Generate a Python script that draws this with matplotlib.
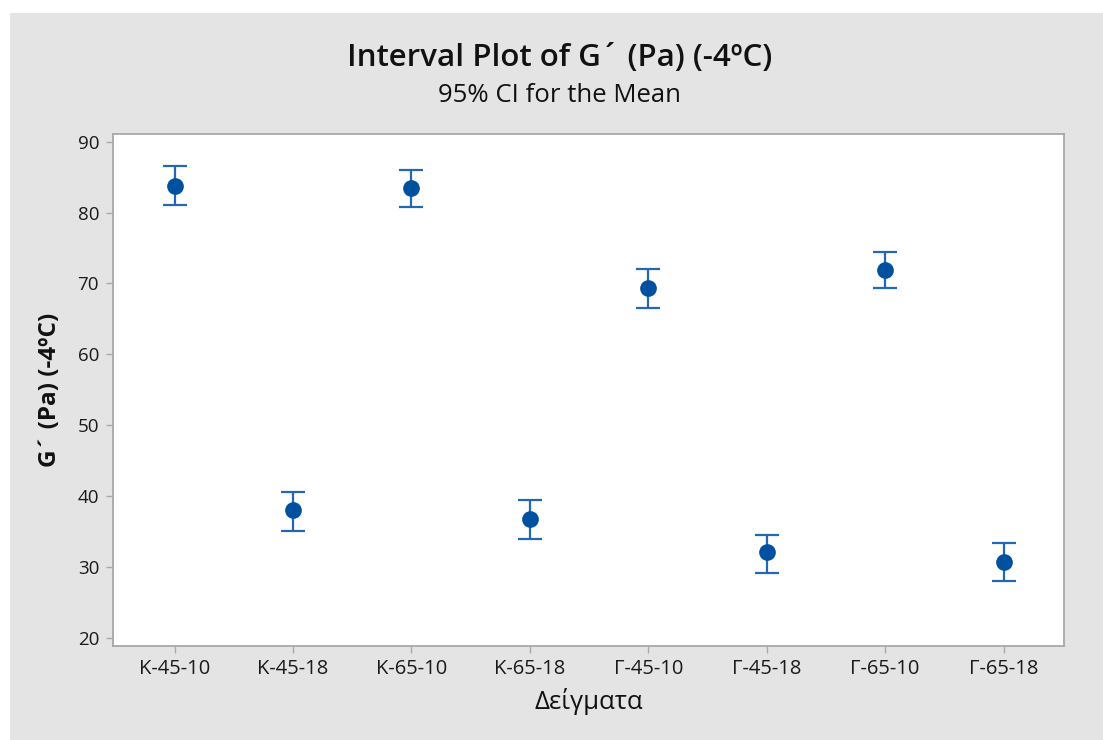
import numpy as np
import matplotlib.pyplot as plt
from matplotlib.patches import Rectangle

plt.rcParams['font.family'] = ['Open Sans', 'DejaVu Sans']

# samples and 95% CI
samples = ['K-45-10', 'K-45-18', 'K-65-10', 'K-65-18',
           'Γ-45-10', 'Γ-45-18', 'Γ-65-10', 'Γ-65-18']
means = [83.8, 38.0, 83.5, 36.7, 69.3, 32.1, 71.9, 30.7]
upper = [86.6, 40.6, 86.0, 39.4, 72.0, 34.5, 74.5, 33.3]
lower = [81.1, 35.0, 80.8, 33.9, 66.5, 29.1, 69.3, 28.0]
yticks = [20, 30, 40, 50, 60, 70, 80, 90]

W, H = 1103, 740
fig = plt.figure(figsize=(W / 100, H / 100), dpi=100, facecolor='white')

# grey backdrop as in the Minitab output
bg = fig.add_axes([0, 0, 1, 1], zorder=-1)
bg.axis('off')
bg.add_patch(Rectangle((10 / W, 0), 1 - 10 / W, 1 - 13 / H,
                       transform=bg.transAxes, facecolor='#e4e4e4',
                       edgecolor='none'))

ax = fig.add_axes([113 / W, 1 - 646 / H, (1064 - 113) / W, (646 - 134) / H],
                  zorder=1)
ax.set_facecolor('white')

x = np.arange(1, len(samples) + 1)
m = np.array(means)
err = [m - np.array(lower), np.array(upper) - m]
ax.errorbar(x, m, yerr=err, fmt='none', ecolor='#2366b3', elinewidth=1.6,
            capsize=8.5, capthick=1.6, zorder=2)
ax.plot(x, m, 'o', color='#0050a0', markersize=11, zorder=3)

ax.set_xlim(0.48, 8.51)
ax.set_ylim(18.8, 91.1)
ax.set_xticks(x)
ax.set_xticklabels(samples)
ax.set_yticks(yticks)

for s in ax.spines.values():
    s.set_color('#a8a8a8')
    s.set_linewidth(1.3)
ax.tick_params(direction='out', length=5, width=1, color='#a8a8a8',
               labelsize=13.5, labelcolor='#1a1a1a', pad=5)
ax.tick_params(axis='x', labelsize=14.5, pad=4)

ax.set_xlabel('Δείγματα', fontsize=18.5, labelpad=7, color='#111111')
ax.set_ylabel('G´ (Pa) (-4ºC)', fontsize=17.5, fontweight='bold', labelpad=11,
              color='#111111')

fig.text(0.507, 1 - 58 / H, 'Interval Plot of G´ (Pa) (-4ºC)', ha='center',
         va='center', fontsize=22.5, fontweight='semibold', color='#111111')
fig.text(0.507, 1 - 95 / H, '95% CI for the Mean', ha='center', va='center',
         fontsize=18.5, color='#111111')

fig.savefig('out.png', dpi=100, facecolor='white')
